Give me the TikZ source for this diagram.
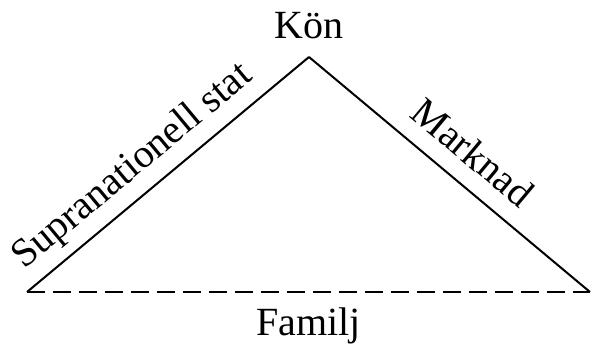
\documentclass[tikz,border=0pt]{standalone}
\usepackage{fontspec}
\setmainfont{Liberation Serif}
\usepackage{tikz}
\usetikzlibrary{positioning}

\tikzset{
    edgelabel/.style={sloped, above=5.5pt, text depth=0pt, inner sep=3.3pt},
    baseline dashed/.style={line width=0.7pt, dash pattern=on 9pt off 4pt},
}

\begin{document}
\begin{tikzpicture}[x=0.5pt, y=-0.5pt, font=\fontsize{20}{24}\selectfont]
        \useasboundingbox (0, 0) rectangle (591, 344);
        %\draw[step=50, gray, very thin] (0, 0) grid (591, 344);
        \coordinate (top) at (309, 57);
        \coordinate (left) at (27, 292);
        \coordinate (right) at (590, 292);
        \draw[line width=1pt] (left) -- (top) node[edgelabel, pos=0.44] (stat) {Supranationell stat};
        \draw[line width=1pt] (top) -- (right) node[edgelabel, pos=0.51] (marknad) {Marknad};
        \draw[baseline dashed] (left) -- (right) coordinate[midway] (basemid);
        \node[above=5.7pt of top] (kon) {Kön};
        \node[below=4.2pt of basemid] (familj) {Familj};
    \end{tikzpicture}
\end{document}
